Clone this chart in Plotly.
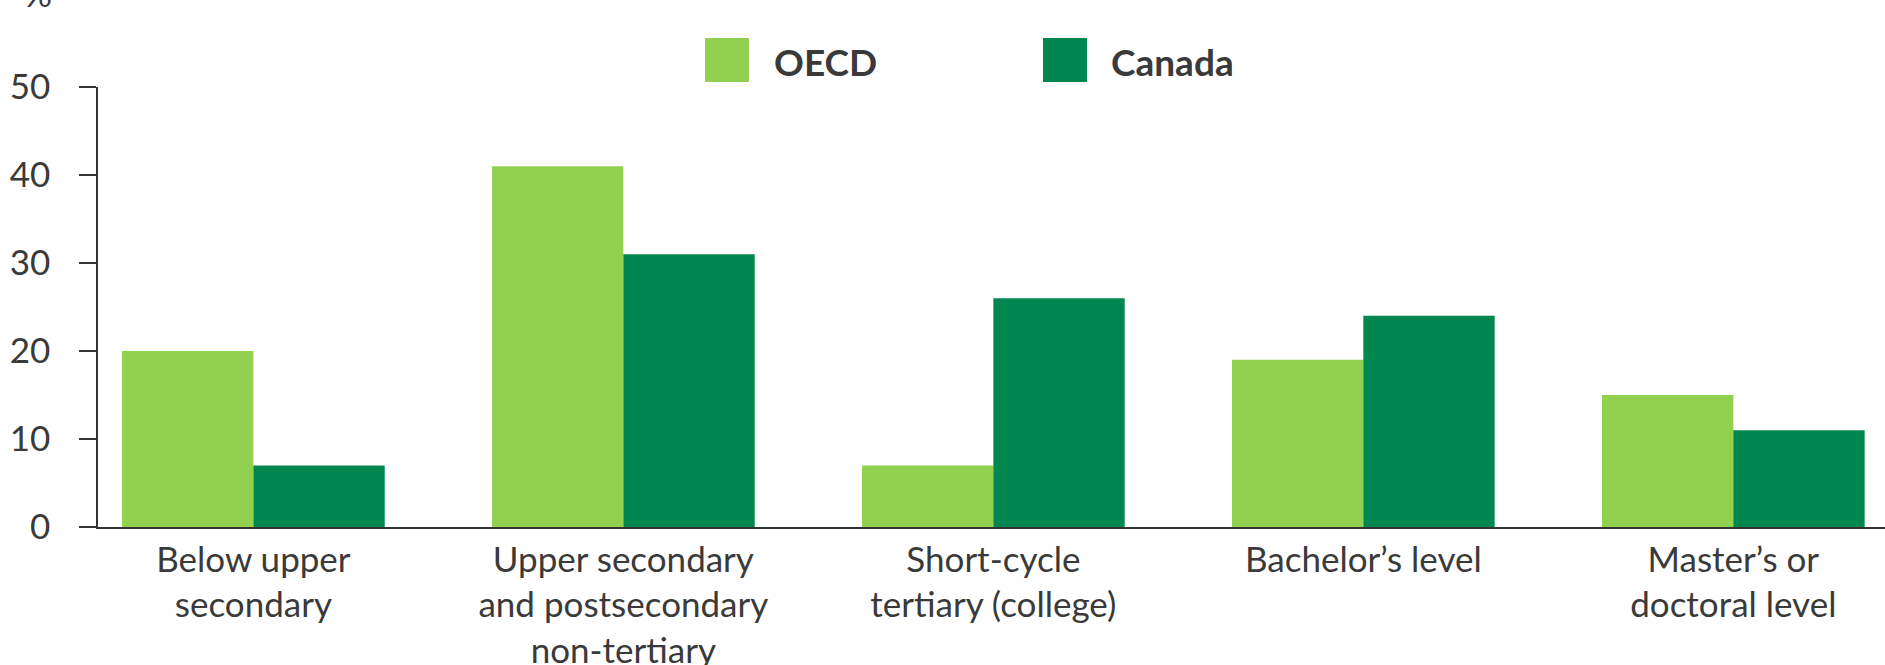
import plotly.graph_objects as go

# ---- data ----
categories = [
    "Below upper<br>secondary",
    "Upper secondary<br>and postsecondary<br>non-tertiary",
    "Short-cycle<br>tertiary (college)",
    "Bachelor’s level",
    "Master’s or<br>doctoral level",
]
oecd_values = [20, 41, 7, 19, 15]
canada_values = [7, 31, 26, 24, 11]
series_names = ["OECD", "Canada"]
y_tick_values = [0, 10, 20, 30, 40, 50]

# ---- style ----
OECD_COLOR = "#92D050"
CANADA_COLOR = "#00874F"
TEXT_COLOR = "#3a3a3a"
AXIS_COLOR = "#333333"
FONT = "Lato"
TICK_SIZE = 35

W, H = 1885, 665
L, R, T, B = 98, 0, 87, 138
PW, PH = W - L - R, H - T - B


def px_x(px):
    return (px - L) / PW


def px_y(py):
    return (H - B - py) / PH


fig = go.Figure()
fig.add_bar(x=categories, y=oecd_values, name=series_names[0],
            marker=dict(color=OECD_COLOR, line=dict(width=0)))
fig.add_bar(x=categories, y=canada_values, name=series_names[1],
            marker=dict(color=CANADA_COLOR, line=dict(width=0)))

# custom legend (large square swatches)
legend_items = [(series_names[0], OECD_COLOR, 705, 772),
                (series_names[1], CANADA_COLOR, 1043, 1109)]
shapes, annotations = [], []
for name, color, sx, tx in legend_items:
    shapes.append(dict(type="rect", xref="paper", yref="paper",
                       x0=px_x(sx), x1=px_x(sx + 44), y0=px_y(82), y1=px_y(38),
                       fillcolor=color, line=dict(width=0)))
    annotations.append(dict(text=f"<b>{name}</b>", xref="paper", yref="paper",
                            x=px_x(tx), y=px_y(61), xanchor="left", yanchor="middle",
                            showarrow=False, font=dict(family=FONT, size=37, color=TEXT_COLOR)))

annotations.append(dict(text="%", xref="paper", yref="paper", x=px_x(54), y=px_y(-7),
                        xanchor="right", yanchor="middle", showarrow=False,
                        font=dict(family=FONT, size=TICK_SIZE, color=TEXT_COLOR)))

fig.update_layout(
    width=W, height=H, autosize=False,
    margin=dict(l=L, r=R, t=T, b=B, pad=0),
    barmode="group", bargap=0.29, bargroupgap=0,
    showlegend=False,
    plot_bgcolor="white", paper_bgcolor="white",
    font=dict(family=FONT, size=TICK_SIZE, color=TEXT_COLOR),
    shapes=shapes, annotations=annotations,
)
fig.update_xaxes(type="category", range=[-0.42, 4.41], showline=True,
                 linecolor=AXIS_COLOR, linewidth=1.5, ticks="", showgrid=False,
                 zeroline=False, automargin=False,
                 tickfont=dict(family=FONT, size=TICK_SIZE, color=TEXT_COLOR),
                 ticklabelstandoff=1)
fig.update_yaxes(range=[0, 50], tickvals=y_tick_values, ticks="outside", ticklen=17,
                 tickwidth=1.5, tickcolor=AXIS_COLOR, showline=True, linecolor=AXIS_COLOR,
                 linewidth=1.5, showgrid=False, zeroline=False, automargin=False,
                 tickfont=dict(family=FONT, size=TICK_SIZE, color=TEXT_COLOR),
                 ticklabelstandoff=22)

fig.write_html("out.html", config={"displayModeBar": False},
               post_script="document.body.style.margin='0';")
